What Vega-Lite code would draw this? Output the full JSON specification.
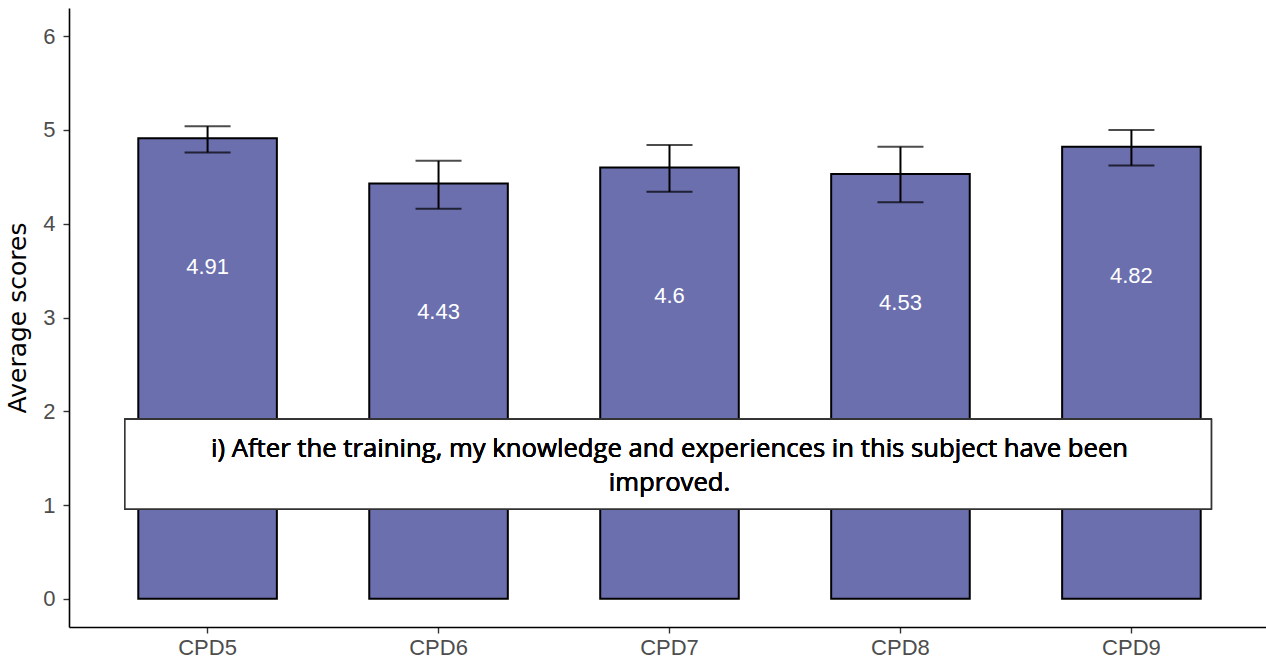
{
  "$schema": "https://vega.github.io/schema/vega-lite/v6.json",
  "width": 1201,
  "height": 619,
  "autosize": "none",
  "padding": {"left": 69, "top": 8, "right": 0, "bottom": 37},
  "background": "white",
  "config": {
    "view": {"stroke": null},
    "axis": {
      "grid": false,
      "domainColor": "black",
      "domainWidth": 1.6,
      "tickColor": "#333333",
      "tickWidth": 1.4,
      "tickSize": 6,
      "labelFont": "Liberation Sans",
      "labelFontSize": 22,
      "labelColor": "#4d4d4d",
      "titleFont": "DejaVu Sans",
      "titleFontSize": 25,
      "titleFontWeight": "normal",
      "titleColor": "black"
    }
  },
  "data": {
    "values": [
      {"item": "CPD5", "mean": 4.91, "lower": 4.76, "upper": 5.04},
      {"item": "CPD6", "mean": 4.43, "lower": 4.16, "upper": 4.67},
      {"item": "CPD7", "mean": 4.6, "lower": 4.34, "upper": 4.84},
      {"item": "CPD8", "mean": 4.53, "lower": 4.23, "upper": 4.82},
      {"item": "CPD9", "mean": 4.82, "lower": 4.62, "upper": 5.0}
    ]
  },
  "layer": [
    {
      "encoding": {
        "x": {
          "field": "item",
          "type": "nominal",
          "scale": {"paddingInner": 0.4, "paddingOuter": 0.3},
          "axis": {"title": null, "labelAngle": 0, "labelPadding": 4}
        }
      },
      "layer": [
        {
          "mark": {"type": "bar", "color": "#6b6fae", "stroke": "black", "strokeWidth": 2},
          "encoding": {
            "y": {
              "field": "mean",
              "type": "quantitative",
              "scale": {"domain": [-0.3, 6.3], "nice": false, "zero": false},
              "axis": {"title": "Average scores", "values": [0, 1, 2, 3, 4, 5, 6], "format": "d", "labelPadding": 8, "titlePadding": 12}
            },
            "y2": {"datum": 0}
          }
        },
        {
          "mark": {"type": "rule", "color": "black", "strokeWidth": 2},
          "encoding": {
            "y": {"field": "lower", "type": "quantitative"},
            "y2": {"field": "upper"}
          }
        },
        {
          "mark": {"type": "tick", "color": "black", "thickness": 2, "size": 46, "orient": "horizontal"},
          "encoding": {"y": {"field": "lower", "type": "quantitative"}}
        },
        {
          "mark": {"type": "tick", "color": "black", "thickness": 2, "size": 46, "orient": "horizontal"},
          "encoding": {"y": {"field": "upper", "type": "quantitative"}}
        },
        {
          "mark": {"type": "text", "color": "white", "font": "Liberation Sans", "fontSize": 22, "baseline": "middle", "dy": 129},
          "encoding": {
            "y": {"field": "mean", "type": "quantitative"},
            "text": {"field": "mean", "type": "quantitative"}
          }
        }
      ]
    },
    {
      "mark": {"type": "rect", "fill": "white", "stroke": "#333333", "strokeWidth": 1.5},
      "encoding": {
        "x": {"datum": 0.242, "type": "quantitative", "scale": {"domain": [0, 5.2], "nice": false, "zero": false}, "axis": null},
        "x2": {"datum": 4.946},
        "y": {"datum": 1.915, "type": "quantitative"},
        "y2": {"datum": 0.957}
      }
    },
    {
      "mark": {
        "type": "text",
        "text": ["i) After the training, my knowledge and experiences in this subject have been", "improved."],
        "font": "Open Sans",
        "fontSize": 25.7,
        "lineHeight": 34,
        "color": "black",
        "align": "center",
        "baseline": "middle"
      },
      "encoding": {
        "x": {"datum": 2.6, "type": "quantitative", "scale": {"domain": [0, 5.2], "nice": false, "zero": false}, "axis": null},
        "y": {"datum": 1.596, "type": "quantitative"}
      }
    }
  ],
  "resolve": {"scale": {"x": "independent"}}
}
